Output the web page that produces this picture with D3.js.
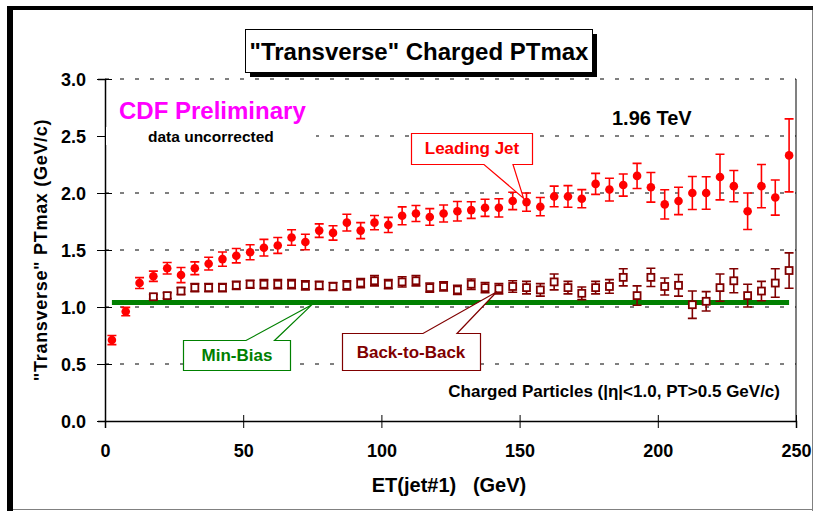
<!DOCTYPE html>
<html><head><meta charset="utf-8">
<script src="https://cdn.jsdelivr.net/npm/d3@7"></script>
<style>
body{margin:0;background:#fff}
svg{display:block}
text{font-family:"Liberation Sans",Arial,Helvetica,sans-serif;font-weight:bold}
</style>
</head><body>
<svg id="chart" width="817" height="511"></svg>
<script>
// Leading-jet ET bins (GeV), 5 GeV wide
const etBins = [2.5,7.5,12.5,17.5,22.5,27.5,32.5,37.5,42.5,47.5,
  52.5,57.5,62.5,67.5,72.5,77.5,82.5,87.5,92.5,97.5,
  102.5,107.5,112.5,117.5,122.5,127.5,132.5,137.5,142.5,147.5,
  152.5,157.5,162.5,167.5,172.5,177.5,182.5,187.5,192.5,197.5,
  202.5,207.5,212.5,217.5,222.5,227.5,232.5,237.5,242.5,247.5];

// "Transverse" PTmax, leading-jet sample (GeV/c)
const leadingJet = [0.71,0.96,1.21,1.27,1.34,1.28,1.34,1.38,1.42,1.45,
  1.48,1.52,1.54,1.61,1.57,1.67,1.65,1.74,1.67,1.74,
  1.72,1.80,1.82,1.79,1.82,1.84,1.85,1.87,1.87,1.93,
  1.92,1.88,1.97,1.97,1.95,2.08,2.03,2.07,2.15,2.05,
  1.90,1.93,2.00,2.00,2.14,2.06,1.84,2.06,1.96,2.33];
const leadingJetErr = [0.04,0.037,0.048,0.045,0.051,0.066,0.056,0.056,0.063,0.063,
  0.066,0.073,0.07,0.068,0.068,0.059,0.063,0.073,0.07,0.062,
  0.066,0.078,0.07,0.073,0.075,0.085,0.073,0.075,0.08,0.076,
  0.08,0.08,0.09,0.095,0.08,0.092,0.1,0.097,0.11,0.13,
  0.128,0.12,0.145,0.142,0.2,0.137,0.16,0.19,0.154,0.32];

// Back-to-back sample starts at the 17.5 GeV bin
const backToBackET = etBins.slice(3);
const backToBack = [1.09,1.10,1.14,1.17,1.17,1.17,1.19,1.20,1.20,1.20,
  1.20,1.19,1.19,1.18,1.19,1.21,1.23,1.20,1.22,1.23,
  1.17,1.18,1.15,1.20,1.17,1.16,1.18,1.17,1.15,1.22,
  1.17,1.12,1.17,1.18,1.26,1.10,1.26,1.18,1.19,1.02,
  1.05,1.17,1.23,1.10,1.14,1.21,1.32];
const backToBackErr = [0.02,0.025,0.03,0.035,0.035,0.035,0.035,0.035,0.04,0.04,
  0.04,0.04,0.035,0.035,0.04,0.04,0.045,0.04,0.045,0.045,
  0.04,0.04,0.04,0.045,0.045,0.045,0.05,0.055,0.055,0.07,
  0.055,0.055,0.055,0.06,0.075,0.085,0.08,0.075,0.095,0.12,
  0.085,0.12,0.105,0.10,0.085,0.125,0.155];

// Min-bias level, flat across the ET range
const minBiasET = [2.5, 247.5];
const minBias = [1.04, 1.04];

const xTicks = [0,50,100,150,200,250];
const yTicks = [0,0.5,1.0,1.5,2.0,2.5,3.0];

const svg = d3.select("#chart");
const x = d3.scaleLinear().domain([0,250]).range([105,796]);
const y = d3.scaleLinear().domain([0,3]).range([421,79]);

const RED = "#ff0000", DARK = "#800000", GREEN = "#008000", MAGENTA = "#ff00ff";

// slide frame
svg.append("rect").attr("x",7).attr("y",6).attr("width",6).attr("height",505).attr("fill","#000");
svg.append("rect").attr("x",7).attr("y",6).attr("width",806).attr("height",4).attr("fill","#000");
svg.append("line").attr("x1",812.5).attr("x2",812.5).attr("y1",10).attr("y2",511).attr("stroke","#808080").attr("stroke-width",1);
svg.append("line").attr("x1",13).attr("x2",813).attr("y1",509.5).attr("y2",509.5).attr("stroke","#808080").attr("stroke-width",1);

// plot-area border (right)
svg.append("line").attr("x1",x(250)).attr("x2",x(250)).attr("y1",y(3)).attr("y2",y(0))
  .attr("stroke","#808080").attr("stroke-width",2);

// dashed gridlines
svg.append("g").selectAll("line").data(yTicks.filter(d => d > 0)).join("line")
  .attr("x1",x(0)).attr("x2",x(250))
  .attr("y1",d => y(d)).attr("y2",d => y(d))
  .attr("stroke","#000").attr("stroke-width",1).attr("stroke-dasharray","4,11");

// axes
const yAxis = svg.append("g").attr("transform",`translate(${x(0)},0)`)
  .call(d3.axisLeft(y).tickValues(yTicks).tickFormat(d3.format(".1f")).tickSizeOuter(0).tickSize(7));
yAxis.select(".domain").attr("stroke","#000").attr("stroke-width",1.5);
yAxis.selectAll(".tick line").attr("x1",7).attr("x2",-8).attr("stroke","#000");
yAxis.selectAll(".tick text").attr("x",-19).attr("dy","0.35em")
  .style("font-size","18px").style("font-family","'Liberation Sans',Arial,sans-serif").style("font-weight","bold").attr("fill","#000");

const xAxis = svg.append("g").attr("transform",`translate(0,${y(0)})`)
  .call(d3.axisBottom(x).tickValues(xTicks).tickFormat(d3.format("d")).tickSizeOuter(0).tickSize(7));
xAxis.select(".domain").attr("stroke","#000").attr("stroke-width",1.5);
xAxis.selectAll(".tick line").attr("y1",-6).attr("y2",7).attr("stroke","#000");
xAxis.selectAll(".tick text").attr("y",36).attr("dy",0)
  .style("font-size","18px").style("font-family","'Liberation Sans',Arial,sans-serif").style("font-weight","bold").attr("fill","#000");

// axis titles
svg.append("text").attr("x",449).attr("y",492).attr("text-anchor","middle")
  .style("font-size","20px").style("white-space","pre").text("ET(jet#1)   (GeV)");
svg.append("text").attr("transform","translate(47,250) rotate(-90)").attr("text-anchor","middle")
  .style("font-size","18px").style("letter-spacing","0.7px").text("\"Transverse\" PTmax (GeV/c)");

// title box with drop shadow
svg.append("rect").attr("x",250).attr("y",34).attr("width",347).attr("height",43).attr("fill","#000");
svg.append("rect").attr("x",245.5).attr("y",29.5).attr("width",347).attr("height",43)
  .attr("fill","#fff").attr("stroke","#000").attr("stroke-width",1);
svg.append("text").attr("x",419).attr("y",60).attr("text-anchor","middle")
  .style("font-size","24px").text("\"Transverse\" Charged PTmax");

// text annotations
svg.append("text").attr("x",119).attr("y",119).style("font-size","24px").attr("fill",MAGENTA).text("CDF Preliminary");
svg.append("rect").attr("x",106).attr("y",127).attr("width",210).attr("height",18).attr("fill","#fff");
svg.append("text").attr("x",148).attr("y",142).style("font-size","15.5px").text("data uncorrected");
svg.append("text").attr("x",612).attr("y",125).style("font-size","20px").text("1.96 TeV");
svg.append("text").attr("x",780).attr("y",397).attr("text-anchor","end").style("font-size","17px")
  .text("Charged Particles (|η|<1.0, PT>0.5 GeV/c)");

// min-bias level
svg.append("path")
  .datum(minBiasET.map((e,i) => [e, minBias[i]]))
  .attr("d", d3.line().x(d => x(d[0])).y(d => y(d[1])))
  .attr("fill","none").attr("stroke",GREEN).attr("stroke-width",5);

// error bars helper
function errorBars(g, xs, vals, errs, color, cap) {
  const data = xs.map((e,i) => ({e, v: vals[i], s: errs[i]}));
  const eb = g.append("g").attr("stroke",color).attr("stroke-width",1.6).attr("fill","none");
  eb.selectAll("path").data(data).join("path")
    .attr("d", d => {
      const cx = x(d.e), y1 = y(d.v + d.s), y2 = y(d.v - d.s);
      return `M${cx},${y1}V${y2}M${cx-cap},${y1}H${cx+cap}M${cx-cap},${y2}H${cx+cap}`;
    });
  return data;
}

// back-to-back: open squares
const gB = svg.append("g");
const bData = errorBars(gB, backToBackET, backToBack, backToBackErr, DARK, 4.5);
gB.selectAll("rect").data(bData).join("rect")
  .attr("x", d => x(d.e) - 3.5).attr("y", d => y(d.v) - 3.5)
  .attr("width",7).attr("height",7)
  .attr("fill","#fff").attr("stroke",DARK).attr("stroke-width",1.8);

// leading jet: filled circles
const gL = svg.append("g");
const lData = errorBars(gL, etBins, leadingJet, leadingJetErr, RED, 4.5);
gL.selectAll("circle").data(lData).join("circle")
  .attr("cx", d => x(d.e)).attr("cy", d => y(d.v)).attr("r",4.3).attr("fill",RED);

// callout boxes
function calloutBelow(x0,y0,x1,y1,b1,b2,tip,color){ // wedge leaves the bottom edge
  svg.append("path").attr("d",`M${x0},${y0}H${x1}V${y1}H${b2}L${tip[0]},${tip[1]}L${b1},${y1}H${x0}Z`)
    .attr("fill","#fff").attr("stroke",color).attr("stroke-width",1.2);
}
function calloutAbove(x0,y0,x1,y1,b1,b2,tip,color){ // wedge leaves the top edge
  svg.append("path").attr("d",`M${x0},${y0}H${b1}L${tip[0]},${tip[1]}L${b2},${y0}H${x1}V${y1}H${x0}Z`)
    .attr("fill","#fff").attr("stroke",color).attr("stroke-width",1.2);
}
const ljIdx = etBins.indexOf(152.5);
calloutBelow(411.5,133.5,532.5,164.5,484,513,[x(152.5)-3, y(leadingJet[ljIdx])-4],RED);
svg.append("text").attr("x",472).attr("y",154).attr("text-anchor","middle").style("font-size","17px").attr("fill",RED).text("Leading Jet");

calloutAbove(183.5,340.5,290.5,370.5,246,274.5,[x(75), y(minBias[0])+2],GREEN);
svg.append("text").attr("x",237).attr("y",361).attr("text-anchor","middle").style("font-size","17px").attr("fill",GREEN).text("Min-Bias");

const bbIdx = backToBackET.indexOf(142.5);
calloutAbove(342.5,333.5,480.5,370.5,423,457,[x(142.5)-2, y(backToBack[bbIdx])+3],DARK);
svg.append("text").attr("x",411).attr("y",358).attr("text-anchor","middle").style("font-size","17px").attr("fill",DARK).text("Back-to-Back");
</script>
</body></html>
